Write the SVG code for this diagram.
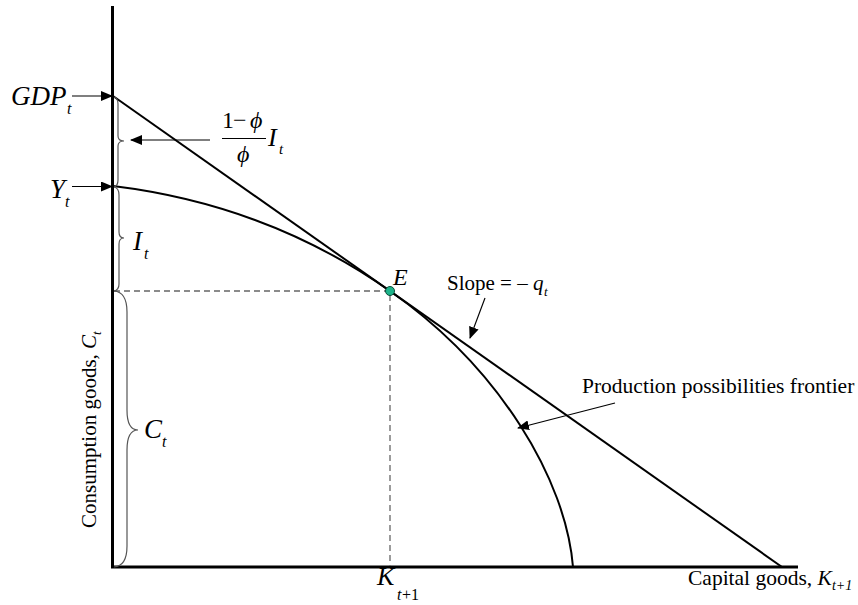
<svg xmlns="http://www.w3.org/2000/svg" width="858" height="605" viewBox="0 0 858 605">
<defs>
<marker id="ah" markerWidth="12" markerHeight="10" refX="11" refY="5" orient="auto" markerUnits="userSpaceOnUse">
<path d="M0,0 L12,5 L0,10 Z" fill="#000"/>
</marker>
<style>
.t{font-family:"Liberation Serif","Times New Roman",serif;fill:#000}
.m{font-family:"Liberation Serif","Times New Roman",serif;font-style:italic;fill:#000}
.ax{stroke:#000;stroke-width:3;fill:none}
.ln{stroke:#000;stroke-width:2;fill:none}
.ar{stroke:#000;stroke-width:1.2;fill:none;marker-end:url(#ah)}
.br{stroke:#555;stroke-width:1.2;fill:none}
.ds{stroke:#666;stroke-width:1.3;fill:none;stroke-dasharray:6,4}
</style>
</defs>
<g id="axes">
<path class="ax" d="M112.5,6 L112.5,567 L798,567"/>
</g>
<g id="guides">
<path class="ds" d="M114,291 L390,291 L390,566"/>
</g>
<g id="budget-line">
<path class="ln" d="M113,96 L782,567"/>
</g>
<g id="ppf">
<path class="ln" d="M113,186 C203,197 300,227.6 390,291 C500,368 566,480 573,567"/>
</g>
<g id="braces">
<path class="br" d="M114,97 Q118,98 118,104 L118,136 Q118,141 124,141 Q118,141 118,146 L118,180 Q118,186 114,187"/>
<path class="br" d="M114,187 Q119,188 119,195 L119,232 Q119,238 124,238 Q119,238 119,244 L119,284 Q119,290 114,291"/>
<path class="br" d="M114,291 Q127,292 127,312 L127,410 Q127,430 138,430 Q127,430 127,450 L127,546 Q127,566 114,567"/>
</g>
<g id="connectors">
<path class="ar" d="M72,96 L112,96"/>
<path class="ar" d="M72,186.5 L112,186.5"/>
<path class="ar" d="M210,140 L131,140"/>
<path class="ar" d="M485,298 L470,338"/>
<path class="ar" d="M615,403 L518,428"/>
</g>
<g id="node-E">
<circle cx="390" cy="291" r="4.5" fill="#1db38a" stroke="#0b4d3a" stroke-width="1"/>
<text class="m" x="393" y="285" font-size="24">E</text>
</g>
<g id="label-GDP">
<text class="m" x="11" y="105" font-size="27">GDP</text>
<text class="m" x="67" y="114" font-size="16">t</text>
</g>
<g id="label-Y">
<text class="m" x="50" y="198" font-size="27">Y</text>
<text class="m" x="65" y="207" font-size="16">t</text>
</g>
<g id="label-frac">
<text class="t" x="222" y="128" font-size="24">1</text>
<text class="t" x="233" y="128" font-size="24">−</text>
<text class="m" x="250" y="128" font-size="24">ϕ</text>
<path d="M222,138.5 L266,138.5" stroke="#000" stroke-width="1.2"/>
<text class="m" x="237" y="162" font-size="24">ϕ</text>
<text class="m" x="268" y="146" font-size="26">I</text>
<text class="m" x="279" y="154" font-size="15">t</text>
</g>
<g id="label-I">
<text class="m" x="133" y="250" font-size="27">I</text>
<text class="m" x="144" y="259" font-size="16">t</text>
</g>
<g id="label-C">
<text class="m" x="144" y="438" font-size="27">C</text>
<text class="m" x="162" y="447" font-size="16">t</text>
</g>
<g id="label-slope">
<text class="t" x="447" y="290" font-size="21">Slope = –</text>
<text class="m" x="533" y="290" font-size="21">q</text>
<text class="m" x="544" y="296" font-size="13">t</text>
</g>
<g id="label-ppf">
<text class="t" x="582" y="393" font-size="21.5">Production possibilities frontier</text>
</g>
<g id="label-K">
<text class="m" x="377" y="585" font-size="26">K</text>
<text class="m" x="397" y="600" font-size="16">t</text>
<text class="t" x="402" y="600" font-size="16">+1</text>
</g>
<g id="label-xaxis">
<text class="t" x="688" y="585" font-size="21.5">Capital goods, <tspan class="m">K</tspan><tspan class="m" font-size="14" dy="5">t+1</tspan></text>
</g>
<g id="label-yaxis">
<text class="t" transform="translate(96,528) rotate(-90)" font-size="21">Consumption goods, <tspan class="m">C</tspan><tspan class="m" font-size="13" dy="5">t</tspan></text>
</g>
</svg>
